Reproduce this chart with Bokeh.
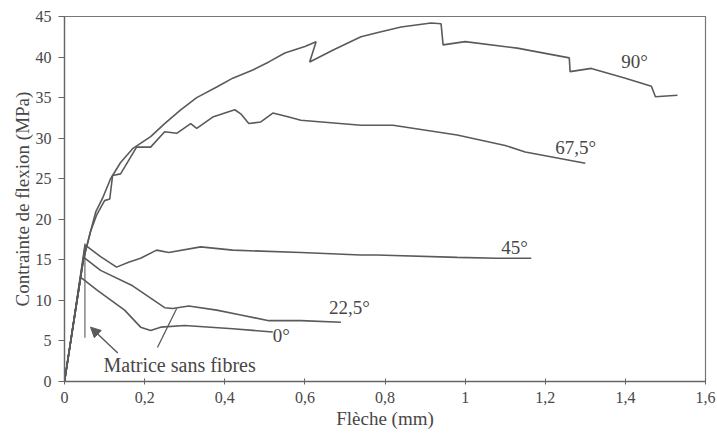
from bokeh.plotting import figure
from bokeh.embed import file_html
from bokeh.resources import INLINE
from bokeh.models import FixedTicker, CustomJSTickFormatter, Arrow, NormalHead, ColumnDataSource
from bokeh.core.properties import value

# ---- data ----
x90 = [0, 0.047, 0.065, 0.078, 0.095, 0.115, 0.14, 0.17, 0.215, 0.25, 0.29, 0.33, 0.38, 0.42, 0.47,
       0.51, 0.55, 0.6, 0.628, 0.612, 0.672, 0.74, 0.78, 0.84, 0.915, 0.94, 0.945, 1.0, 1.13, 1.26,
       1.262, 1.315, 1.4, 1.465, 1.475, 1.53]
y90 = [0, 15, 18.5, 20.9, 22.6, 25.0, 27.0, 28.7, 30.2, 31.8, 33.5, 35.0, 36.3, 37.4, 38.4,
       39.4, 40.5, 41.3, 41.9, 39.4, 40.9, 42.5, 43.0, 43.7, 44.2, 44.1, 41.5, 41.9, 41.1, 39.9,
       38.2, 38.6, 37.4, 36.4, 35.1, 35.3]

x67 = [0, 0.047, 0.065, 0.08, 0.1, 0.113, 0.12, 0.14, 0.18, 0.215, 0.25, 0.28, 0.315, 0.33, 0.37,
       0.425, 0.44, 0.46, 0.49, 0.52, 0.56, 0.59, 0.74, 0.82, 0.98, 1.1, 1.15, 1.3]
y67 = [0, 15, 18.5, 20.5, 22.3, 22.5, 25.4, 25.6, 28.9, 28.9, 30.8, 30.6, 31.8, 31.2, 32.6,
       33.5, 33.0, 31.8, 32.0, 33.1, 32.6, 32.2, 31.6, 31.6, 30.4, 29.1, 28.3, 26.9]

x45 = [0, 0.052, 0.09, 0.13, 0.16, 0.19, 0.23, 0.26, 0.34, 0.42, 0.59, 0.74, 0.78, 0.98, 1.08, 1.165]
y45 = [0, 16.8, 15.4, 14.1, 14.7, 15.2, 16.2, 15.9, 16.6, 16.2, 15.9, 15.6, 15.6, 15.3, 15.2, 15.2]

x22 = [0, 0.048, 0.09, 0.17, 0.25, 0.27, 0.31, 0.38, 0.44, 0.51, 0.59, 0.69]
y22 = [0, 15.3, 13.7, 11.8, 9.1, 9.0, 9.3, 8.8, 8.2, 7.5, 7.5, 7.3]

x0 = [0, 0.04, 0.047, 0.083, 0.15, 0.19, 0.215, 0.24, 0.3, 0.42, 0.52]
y0 = [0, 12.8, 12.6, 11.2, 8.8, 6.7, 6.3, 6.7, 6.9, 6.5, 6.1]

xm = [0, 0.051, 0.051]
ym = [0, 17.0, 5.4]

curve_labels = ["90°", "67,5°", "45°", "22,5°", "0°"]
label_x = [1.39, 1.225, 1.09, 0.66, 0.52]
label_y = [39.4, 28.9, 16.5, 9.1, 5.7]

note_text = ["Matrice sans fibres"]
note_x = [0.0975]
note_y = [2.0]
arrow_from = (0.133, 3.5)
arrow_to = (0.065, 6.7)
leader_x = [0.232, 0.28]
leader_y = [4.2, 9.0]

x_ticks = [0, 0.2, 0.4, 0.6, 0.8, 1.0, 1.2, 1.4, 1.6]
y_ticks = [0, 5, 10, 15, 20, 25, 30, 35, 40, 45]

# ---- styling ----
LINE = "#5a5a5a"
TEXT = "#474747"
FONT = "Liberation Serif"

p = figure(width=717, height=437, output_backend="svg", toolbar_location=None,
           x_range=(0, 1.6), y_range=(0, 45),
           min_border_left=64, min_border_right=12, min_border_top=16, min_border_bottom=56,
           background_fill_color="white", border_fill_color="white")

p.xgrid.visible = False
p.ygrid.visible = False
p.outline_line_color = "#777777"
p.outline_line_width = 1.2

fmt = CustomJSTickFormatter(code="var s = (Math.round(tick*10)/10).toString(); return s.replace('.', ',');")
p.xaxis.ticker = FixedTicker(ticks=x_ticks)
p.xaxis.formatter = fmt
p.yaxis.ticker = FixedTicker(ticks=y_ticks)

for ax in (p.xaxis[0], p.yaxis[0]):
    ax.axis_line_color = "#666666"
    ax.axis_line_width = 1.3
    ax.major_tick_line_color = "#666666"
    ax.minor_tick_line_color = None
    ax.major_label_text_font = FONT
    ax.major_label_text_font_size = "16px"
    ax.major_label_text_color = TEXT
    ax.axis_label_text_font = FONT
    ax.axis_label_text_font_size = "19px"
    ax.axis_label_text_font_style = "normal"
    ax.axis_label_text_color = TEXT

p.xaxis.axis_label = "Flèche (mm)"
p.xaxis.major_tick_in = 3
p.xaxis.major_tick_out = 3
p.xaxis.major_label_standoff = 7
p.xaxis.axis_label_standoff = 2

p.yaxis.axis_label = "Contrainte de flexion (MPa)"
p.yaxis.major_tick_in = 0
p.yaxis.major_tick_out = 6
p.yaxis.major_label_standoff = 7
p.yaxis.axis_label_standoff = 0

for xs, ys in ((x90, y90), (x67, y67), (x45, y45), (x22, y22), (x0, y0)):
    p.line(xs, ys, line_color=LINE, line_width=1.6)

p.line(xm, ym, line_color=LINE, line_width=1.1)
p.line(leader_x, leader_y, line_color=LINE, line_width=1.3)

p.add_layout(Arrow(end=NormalHead(size=10, fill_color=LINE, line_color=LINE),
                   x_start=arrow_from[0], y_start=arrow_from[1],
                   x_end=arrow_to[0], y_end=arrow_to[1],
                   line_color=LINE, line_width=1.4))

src = ColumnDataSource(dict(x=label_x, y=label_y, t=curve_labels))
p.text(x="x", y="y", text="t", source=src, text_font=value(FONT), text_font_size="19px",
       text_color=TEXT, text_align="left", text_baseline="middle")

src2 = ColumnDataSource(dict(x=note_x, y=note_y, t=note_text))
p.text(x="x", y="y", text="t", source=src2, text_font=value(FONT), text_font_size="20px",
       text_color=TEXT, text_align="left", text_baseline="middle")

open("out.html", "w").write(file_html(p, INLINE))
